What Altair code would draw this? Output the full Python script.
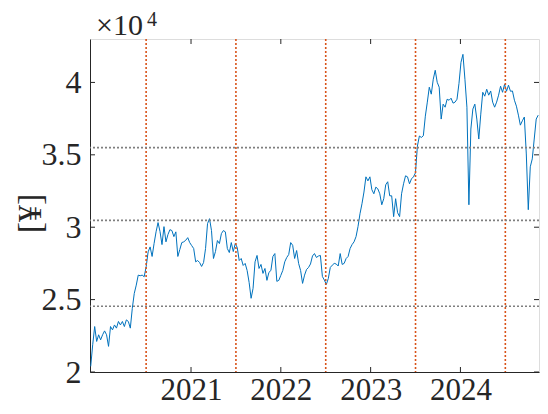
import altair as alt
import numpy as np
import pandas as pd

# Price series (yen) at a regular time step
price = [
    20390, 21880, 23140, 22110, 22570, 22220, 22570, 22840, 22570, 21770,
    23140, 22910, 23250, 23030, 23490, 23250, 23490, 23140, 23600, 23490,
    23030, 24400, 25430, 26000, 26690, 26650, 26690, 26580, 27270, 28300,
    28640, 27980, 28870, 29680, 30320, 29700, 28800, 30040, 28990, 29490,
    29830, 29770, 29350, 29680, 27980, 28460, 28940, 28990, 29100, 29280,
    28940, 28730, 28530, 27610, 27700, 27560, 27290, 27560, 28530, 30250,
    30590, 29770, 27840, 28320, 29080, 28870, 29560, 29770, 29680, 28530,
    28250, 28940, 28320, 28870, 28600, 27700, 27840, 27360, 27500, 27010,
    26190, 25090, 25780, 27610, 28050, 27150, 27430, 26810, 27150, 26330,
    26880, 27010, 27980, 28180, 26260, 26330, 26670, 27010, 27610, 27910,
    28110, 28940, 28750, 27840, 28390, 27500, 27010, 26120, 26690, 27080,
    27220, 27460, 28010, 28180, 27910, 28010, 28050, 26600, 26350, 26050,
    26460, 27220, 27380, 27500, 27460, 27320, 28180, 27430, 27500, 27840,
    27980, 28530, 28800, 28990, 29350, 30040, 30930, 31620, 32430, 33480,
    33200, 33480, 32590, 32310, 32770, 32650, 32310, 31550, 31970, 32930,
    33140, 32170, 32170, 30730, 31970, 31000, 30730, 32310, 33000, 33550,
    33480, 33000, 33340, 33480, 33750, 35610, 36300, 36200, 36320, 37670,
    38640, 39670, 39190, 40220, 40840, 40010, 39670, 37470, 38500, 38290,
    38840, 38770, 38910, 38570, 38640, 38840, 39940, 41390, 41940, 40220,
    38290, 31550, 36780, 38160, 38500, 37470, 36090, 37810, 39320, 39050,
    39530, 39120, 39410, 38640, 38290, 38640, 39120, 39740, 39320, 39870,
    39390, 39810, 39390, 39410, 38770, 38360, 37740, 37050, 37350, 37610,
    35060, 31210, 34170, 34720, 36090, 37470, 37740,
]
start_year = 2019.883
end_year = 2024.866

x_ticks = [2021, 2022, 2023, 2024]
y_ticks = [20000, 25000, 30000, 35000, 40000]
split_years = [2020.5, 2021.5, 2022.5, 2023.5, 2024.5]
levels = [24540, 30470, 35500]

df = pd.DataFrame({"year": np.linspace(start_year, end_year, len(price)), "price": price})
df_split = pd.DataFrame({"year": split_years})
df_lev = pd.DataFrame({"price": levels})
df_xt = pd.DataFrame({"year": x_ticks})
df_yt = pd.DataFrame({"price": y_ticks})

W, H = 449, 333
FONT = "Liberation Serif"
INK = "#262626"

xs = alt.Scale(domain=[2019.875, 2024.875], nice=False, zero=False)
ys = alt.Scale(domain=[20000, 43000], nice=False, zero=False)

x_axis = alt.Axis(
    values=x_ticks, format="d", title=None, grid=False, tickSize=0,
    labelPadding=3, labelFontSize=31, labelFont=FONT, labelColor=INK,
    domainColor=INK, domainWidth=1)
y_axis = alt.Axis(
    values=y_ticks, labelExpr="'' + datum.value / 10000", grid=False, tickSize=0,
    labelPadding=9, labelFontSize=32, labelFont=FONT, labelColor=INK,
    domainColor=INK, domainWidth=1,
    title="[¥]", titleFont=FONT, titleFontSize=34, titleFontWeight="normal",
    titleColor=INK, titleAngle=270, titleX=-60, titleY=174,
    titleAlign="center", titleBaseline="middle")

X = alt.X("year:Q", scale=xs, axis=x_axis)
Y = alt.Y("price:Q", scale=ys, axis=y_axis)

line = alt.Chart(df).mark_line(color="#0072BD", strokeWidth=1, clip=True).encode(x=X, y=Y)

vlines = alt.Chart(df_split).mark_rule(color="#D95319", strokeWidth=1.6, strokeDash=[2, 2]).encode(x=X)
hlines = alt.Chart(df_lev).mark_rule(color="#7f7f7f", strokeWidth=1.6, strokeDash=[2, 2]).encode(y=Y)

xt_bot = alt.Chart(df_xt).mark_rule(color=INK, strokeWidth=1).encode(
    x=X, y=alt.value(H), y2=alt.value(H - 5))
xt_top = alt.Chart(df_xt).mark_rule(color=INK, strokeWidth=1).encode(
    x=X, y=alt.value(0), y2=alt.value(5))
yt_left = alt.Chart(df_yt).mark_rule(color=INK, strokeWidth=1).encode(
    y=Y, x=alt.value(0), x2=alt.value(5))
yt_right = alt.Chart(df_yt).mark_rule(color=INK, strokeWidth=1).encode(
    y=Y, x=alt.value(W), x2=alt.value(W - 5))

mult = alt.Chart(pd.DataFrame({"t": ["×10"]})).mark_text(
    font=FONT, fontSize=30, color=INK, align="left", baseline="alphabetic").encode(
    text="t:N", x=alt.value(6), y=alt.value(-4))
expo = alt.Chart(pd.DataFrame({"t": ["4"]})).mark_text(
    font=FONT, fontSize=20, color=INK, align="left", baseline="alphabetic").encode(
    text="t:N", x=alt.value(57), y=alt.value(-13))

chart = alt.layer(line, vlines, hlines, xt_bot, xt_top, yt_left, yt_right, mult, expo).properties(
    width=W, height=H,
    autosize=alt.AutoSizeParams(type="none"),
    padding={"left": 82, "top": 31, "right": 1, "bottom": 34},
).configure_view(stroke="#a6a6a6", strokeWidth=1).configure(background="white")

chart.save("out.html", embed_options={"renderer": "svg", "actions": False})
